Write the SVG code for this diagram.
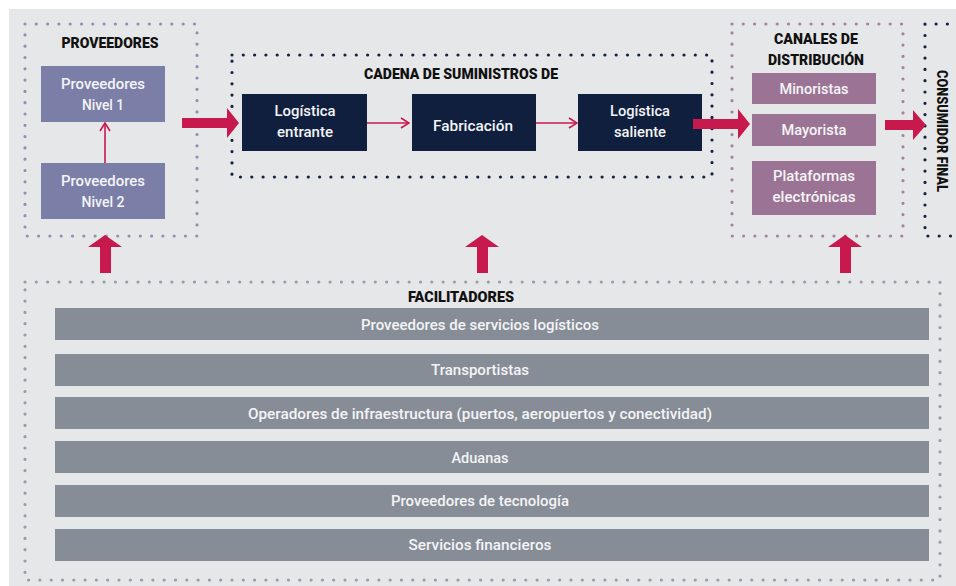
<svg xmlns="http://www.w3.org/2000/svg" width="956" height="586" viewBox="0 0 956 586">
  <defs>
    <marker id="chev" viewBox="0 0 10 12" refX="9" refY="6" markerWidth="10" markerHeight="12" markerUnits="userSpaceOnUse" orient="auto">
      <path d="M1,1 L9,6 L1,11" fill="none" stroke="#c8194f" stroke-width="1.6"/>
    </marker>
    <style>
      .frame { fill: none; stroke-width: 3.2; stroke-linecap: round; stroke-dasharray: 0 11.3; }
      .f-prov { stroke: #8e91b2; }
      .f-chain { stroke: #14213f; }
      .f-chan { stroke: #a7819f; }
      .f-cons { stroke: #14213f; }
      .f-fac { stroke: #999da4; }
      .title { font-family: "Roboto", "Liberation Sans", sans-serif; font-weight: 900; font-size: 15px; fill: #111; text-anchor: middle; }
      .lbl { font-family: "Roboto", "Liberation Sans", sans-serif; font-weight: 500; font-size: 15.5px; fill: #f4f4f6; text-anchor: middle; }
      .bar-lbl { font-family: "Roboto", "Liberation Sans", sans-serif; font-weight: 500; font-size: 15px; fill: #f4f4f6; text-anchor: middle; }
      .tier { fill: #7b7fa8; }
      .stage { fill: #0f1f3d; }
      .chan { fill: #9b7495; }
      .bar { fill: #878d96; }
      .thin { fill: none; stroke: #c8194f; stroke-width: 1.6; marker-end: url(#chev); }
      .big { fill: #c8194f; }
    </style>
  </defs>

  <!-- canvas -->
  <rect x="0" y="0" width="956" height="586" fill="#ffffff"/>
  <rect x="9" y="9" width="947" height="577" fill="#e6e7e8"/>

  <!-- group frames -->
  <rect class="frame f-prov" x="25" y="24" width="172" height="212"/>
  <rect class="frame f-chain" x="232" y="55" width="480" height="122"/>
  <rect class="frame f-chan" x="732" y="24" width="171" height="212"/>
  <path class="frame f-cons" d="M970,24 L925,24 L925,236 L970,236"/>
  <rect class="frame f-fac" x="25" y="282" width="915" height="298"/>

  <!-- suppliers -->
  <g id="proveedores">
    <text class="title" x="110" y="48" textLength="97" lengthAdjust="spacingAndGlyphs">PROVEEDORES</text>
  </g>
  <g id="proveedores-nivel-1">
    <rect class="tier" x="41" y="66" width="124" height="56"/>
    <text class="lbl" x="103" y="89" textLength="84" lengthAdjust="spacingAndGlyphs">Proveedores</text>
    <text class="lbl" x="103" y="110" textLength="42" lengthAdjust="spacingAndGlyphs">Nivel 1</text>
  </g>
  <g id="proveedores-nivel-2">
    <rect class="tier" x="41" y="163" width="124" height="56"/>
    <text class="lbl" x="103" y="186" textLength="84" lengthAdjust="spacingAndGlyphs">Proveedores</text>
    <text class="lbl" x="103" y="207" textLength="43" lengthAdjust="spacingAndGlyphs">Nivel 2</text>
  </g>

  <!-- supply chain -->
  <g id="cadena">
    <text class="title" x="461" y="79" textLength="194" lengthAdjust="spacingAndGlyphs">CADENA DE SUMINISTROS DE</text>
  </g>
  <g id="logistica-entrante">
    <rect class="stage" x="242" y="94" width="125" height="57"/>
    <text class="lbl" x="305" y="116" textLength="61" lengthAdjust="spacingAndGlyphs">Logística</text>
    <text class="lbl" x="305" y="137" textLength="56" lengthAdjust="spacingAndGlyphs">entrante</text>
  </g>
  <g id="fabricacion">
    <rect class="stage" x="412" y="94" width="124" height="57"/>
    <text class="lbl" x="473" y="131" textLength="80" lengthAdjust="spacingAndGlyphs">Fabricación</text>
  </g>
  <g id="logistica-saliente">
    <rect class="stage" x="578" y="94" width="124" height="57"/>
    <text class="lbl" x="640" y="116" textLength="60" lengthAdjust="spacingAndGlyphs">Logística</text>
    <text class="lbl" x="640" y="137" textLength="52" lengthAdjust="spacingAndGlyphs">saliente</text>
  </g>

  <!-- distribution channels -->
  <g id="canales">
    <text class="title" x="816" y="44" textLength="84" lengthAdjust="spacingAndGlyphs">CANALES DE</text>
    <text class="title" x="816" y="65" textLength="96" lengthAdjust="spacingAndGlyphs">DISTRIBUCIÓN</text>
  </g>
  <g id="minoristas">
    <rect class="chan" x="752" y="73" width="124" height="31"/>
    <text class="lbl" x="814" y="94" textLength="69" lengthAdjust="spacingAndGlyphs">Minoristas</text>
  </g>
  <g id="mayorista">
    <rect class="chan" x="752" y="114" width="124" height="32"/>
    <text class="lbl" x="814" y="135" textLength="65" lengthAdjust="spacingAndGlyphs">Mayorista</text>
  </g>
  <g id="plataformas">
    <rect class="chan" x="752" y="161" width="124" height="54"/>
    <text class="lbl" x="814" y="181" textLength="82" lengthAdjust="spacingAndGlyphs">Plataformas</text>
    <text class="lbl" x="814" y="202" textLength="83" lengthAdjust="spacingAndGlyphs">electrónicas</text>
  </g>

  <!-- final consumer -->
  <g id="consumidor-final">
    <text class="title" transform="translate(942,131) rotate(90)" x="0" y="5" textLength="122" lengthAdjust="spacingAndGlyphs">CONSUMIDOR FINAL</text>
  </g>

  <!-- enablers -->
  <g id="facilitadores">
    <text class="title" x="461" y="302" textLength="106" lengthAdjust="spacingAndGlyphs">FACILITADORES</text>
  </g>
  <g id="fac-logisticos">
    <rect class="bar" x="55" y="308" width="874" height="32"/>
    <text class="bar-lbl" x="480" y="330" textLength="238" lengthAdjust="spacingAndGlyphs">Proveedores de servicios logísticos</text>
  </g>
  <g id="fac-transportistas">
    <rect class="bar" x="55" y="354" width="874" height="32"/>
    <text class="bar-lbl" x="480" y="375" textLength="98" lengthAdjust="spacingAndGlyphs">Transportistas</text>
  </g>
  <g id="fac-infraestructura">
    <rect class="bar" x="55" y="397" width="874" height="32"/>
    <text class="bar-lbl" x="480" y="419" textLength="464" lengthAdjust="spacingAndGlyphs">Operadores de infraestructura (puertos, aeropuertos y conectividad)</text>
  </g>
  <g id="fac-aduanas">
    <rect class="bar" x="55" y="441" width="874" height="32"/>
    <text class="bar-lbl" x="480" y="463" textLength="57" lengthAdjust="spacingAndGlyphs">Aduanas</text>
  </g>
  <g id="fac-tecnologia">
    <rect class="bar" x="55" y="485" width="874" height="32"/>
    <text class="bar-lbl" x="480" y="506" textLength="178" lengthAdjust="spacingAndGlyphs">Proveedores de tecnología</text>
  </g>
  <g id="fac-financieros">
    <rect class="bar" x="55" y="529" width="874" height="32"/>
    <text class="bar-lbl" x="480" y="550" textLength="143" lengthAdjust="spacingAndGlyphs">Servicios financieros</text>
  </g>

  <!-- connectors -->
  <g id="connectors">
    <line class="thin" x1="105" y1="163" x2="105" y2="123"/>
    <line class="thin" x1="367" y1="123" x2="409" y2="123"/>
    <line class="thin" x1="536" y1="123" x2="577" y2="123"/>

    <!-- wide right-pointing arrows -->
    <polygon class="big" points="182,118 227,118 227,108 239,123 227,138 227,128 182,128"/>
    <polygon class="big" points="693,119 738,119 738,109 750,124 738,139 738,129 693,129"/>
    <polygon class="big" points="885,120 913,120 913,110 926,125 913,140 913,130 885,130"/>

    <!-- wide upward arrows from the enablers -->
    <polygon class="big" points="100,273 100,247 88,247 105,235 122,247 111,247 111,273"/>
    <polygon class="big" points="477,273 477,247 465,247 482,235 499,247 488,247 488,273"/>
    <polygon class="big" points="840,273 840,247 828,247 845,235 862,247 851,247 851,273"/>
  </g>
</svg>
